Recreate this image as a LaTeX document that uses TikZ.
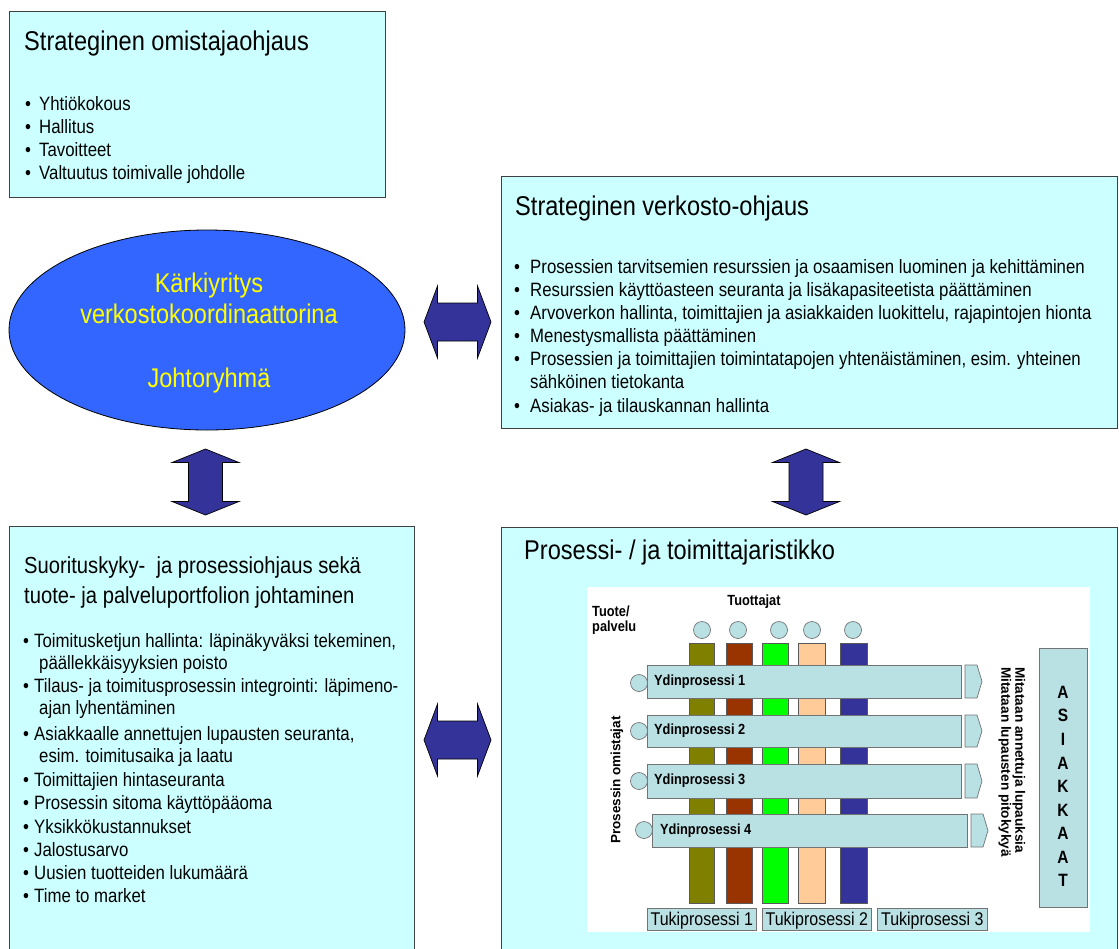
\documentclass[tikz,border=0pt]{standalone}
\usepackage{fontspec}
\setmainfont{Liberation Sans}
\usetikzlibrary{shapes.geometric}

\definecolor{panelbg}{HTML}{CCFFFF}
\definecolor{leadblue}{HTML}{3366FF}
\definecolor{arrowblue}{HTML}{333399}
\definecolor{leadtext}{HTML}{FFFF00}
\definecolor{teal}{HTML}{B9E0E3}
\definecolor{barA}{HTML}{808000}
\definecolor{barB}{HTML}{993300}
\definecolor{barC}{HTML}{00FF00}
\definecolor{barD}{HTML}{FFCC99}
\definecolor{barE}{HTML}{333399}

\newcommand\fs[1]{\fontsize{#1}{#1}\selectfont}
\newcommand\bitem[2]{\makebox[#1pt][l]{\textbullet}#2}

\begin{document}
\begin{tikzpicture}[x=1pt,y=-1pt,
  panel/.style={draw=black!75, line width=0.9pt, fill=panelbg, anchor=north west, inner sep=0},
  ttl/.style={anchor=base west, inner sep=0, yscale=1.15, font=\fs{23.6}},
  ttlsmall/.style={anchor=base west, inner sep=0, yscale=1.15, font=\fs{20.2}},
  itm/.style={anchor=base west, inner sep=0, yscale=1.15, font=\fs{16.8}},
  leadtxt/.style={anchor=base, inner sep=0, yscale=1.15, text=leadtext, font=\fs{23.5}},
  blockarrow/.style={fill=arrowblue, draw=black, line width=0.7pt, line join=miter},
  harrow/.pic={\draw[blockarrow] (-33.5,0) -- (-20,-36) -- (-20,-19) -- (20,-19) -- (20,-36)
      -- (33.5,0) -- (20,36) -- (20,19) -- (-20,19) -- (-20,36) -- cycle;},
  varrow/.pic={\draw[blockarrow] (0,-33) -- (33.5,-19.5) -- (17,-19.5) -- (17,19.5) -- (33.5,19.5)
      -- (0,33) -- (-33.5,19.5) -- (-17,19.5) -- (-17,-19.5) -- (-33.5,-19.5) -- cycle;},
  bar/.style={draw=black!65, line width=0.6pt, anchor=north west, inner sep=0, minimum width=25, minimum height=260},
  procbox/.style={draw=black!55, line width=0.7pt, fill=teal, anchor=north west, inner sep=0},
  dot/.style={circle, draw=black!55, line width=0.7pt, fill=teal, minimum size=17, inner sep=0},
  bold/.style={inner sep=0, yscale=1.15, font=\bfseries\fs{12.8}},
  tuki/.style={procbox, minimum height=22, font=\fs{16}}
]
\useasboundingbox (0,0) rectangle (1119,948);
\clip (0,0) rectangle (1119,948);

% --- panels -----------------------------------------------------------
\node[panel, minimum width=376, minimum height=186] (own) at (9,11) {};
\node[panel, minimum width=616, minimum height=252] (net) at (501,176) {};
\node[panel, minimum width=405, minimum height=430] (perf) at (9,526) {};
\node[panel, minimum width=616, minimum height=430] (grid) at (501,527) {};

% --- strategic ownership ------------------------------------------------
\node[ttl] (ownT) at (24,50) {Strateginen omistajaohjaus};
\node[itm] (own1) at (25,110) {\bitem{14}{Yhtiökokous}};
\node[itm] (own2) at (25,133) {\bitem{14}{Hallitus}};
\node[itm] (own3) at (25,156) {\bitem{14}{Tavoitteet}};
\node[itm] (own4) at (25,179) {\bitem{14}{Valtuutus toimivalle johdolle}};

% --- lead company ellipse -----------------------------------------------
\node[ellipse, draw=black, line width=0.8pt, fill=leadblue, minimum width=396, minimum height=200, inner sep=0] (lead) at (207,330) {};
\node[leadtxt] (lead1) at (209,292) {Kärkiyritys};
\node[leadtxt] (lead2) at (209,323) {verkostokoordinaattorina};
\node[leadtxt] (lead3) at (209,387) {Johtoryhmä};

% --- strategic network steering ---------------------------------------
\node[ttl] (netT) at (515,215) {Strateginen verkosto-ohjaus};
\node[itm] (net1) at (514,273) {\bitem{16}{Prosessien tarvitsemien resurssien ja osaamisen luominen ja kehittäminen}};
\node[itm] (net2) at (514,296) {\bitem{16}{Resurssien käyttöasteen seuranta ja lisäkapasiteetista päättäminen}};
\node[itm] (net3) at (514,319) {\bitem{16}{Arvoverkon hallinta, toimittajien ja asiakkaiden luokittelu, rajapintojen hionta}};
\node[itm] (net4) at (514,342) {\bitem{16}{Menestysmallista päättäminen}};
\node[itm] (net5) at (514,365) {\bitem{16}{Prosessien ja toimittajien toimintatapojen yhtenäistäminen, esim. yhteinen}};
\node[itm] (net5b) at (530,388) {sähköinen tietokanta};
\node[itm] (net6) at (514,412) {\bitem{16}{Asiakas- ja tilauskannan hallinta}};

% --- performance steering ---------------------------------------------
\node[ttlsmall] (perfT1) at (24,573) {Suorituskyky-\ \ ja prosessiohjaus sekä};
\node[ttlsmall] (perfT2) at (24,603) {tuote- ja palveluportfolion johtaminen};
\node[itm] (perf1) at (23,647) {\bitem{11}{Toimitusketjun hallinta: läpinäkyväksi tekeminen,}};
\node[itm] (perf1b) at (39,669) {päällekkäisyyksien poisto};
\node[itm] (perf2) at (23,692) {\bitem{11}{Tilaus- ja toimitusprosessin integrointi: läpimeno-}};
\node[itm] (perf2b) at (39,714) {ajan lyhentäminen};
\node[itm] (perf3) at (23,740) {\bitem{11}{Asiakkaalle annettujen lupausten seuranta,}};
\node[itm] (perf3b) at (39,762) {esim. toimitusaika ja laatu};
\node[itm] (perf4) at (23,786) {\bitem{11}{Toimittajien hintaseuranta}};
\node[itm] (perf5) at (23,809) {\bitem{11}{Prosessin sitoma käyttöpääoma}};
\node[itm] (perf6) at (23,833) {\bitem{11}{Yksikkökustannukset}};
\node[itm] (perf7) at (23,856) {\bitem{11}{Jalostusarvo}};
\node[itm] (perf8) at (23,879) {\bitem{11}{Uusien tuotteiden lukumäärä}};
\node[itm] (perf9) at (23,902) {\bitem{11}{Time to market}};

% --- block arrows between the panels ------------------------------------
\pic (arrTop) at (457.5,322) {harrow};
\pic (arrBottom) at (457.5,740) {harrow};
\pic (arrLeft) at (205.5,482) {varrow};
\pic (arrRight) at (806,482) {varrow};

% --- process / supplier matrix -------------------------------------------
\node[ttl] (gridT) at (524,559) {Prosessi- / ja toimittajaristikko};
\node[fill=white, anchor=north west, inner sep=0, minimum width=503, minimum height=345] (canvas) at (587,587) {};

\node[bold, anchor=base] (prod) at (754,605) {Tuottajat};
\node[bold, anchor=base west] (tp1) at (592,616) {Tuote/};
\node[bold, anchor=base west] (tp2) at (592,631) {palvelu};

\node[dot] (s1) at (702,630) {};
\node[dot] (s2) at (738,630) {};
\node[dot] (s3) at (779,630) {};
\node[dot] (s4) at (812,630) {};
\node[dot] (s5) at (853,630) {};

\node[bar, fill=barA] (c1) at (689,643) {};
\node[bar, fill=barB, minimum width=26] (c2) at (726,643) {};
\node[bar, fill=barC, minimum width=26] (c3) at (762,643) {};
\node[bar, fill=barD, minimum width=27] (c4) at (798,643) {};
\node[bar, fill=barE, minimum width=27] (c5) at (840,643) {};

% core processes
\node[procbox, minimum width=314, minimum height=33] (p1) at (647,665) {};
\node[procbox, minimum width=314, minimum height=32] (p2) at (647,715) {};
\node[procbox, minimum width=314, minimum height=34] (p3) at (647,764) {};
\node[procbox, minimum width=315, minimum height=33] (p4) at (652,814) {};

\node[bold, anchor=west] (p1t) at (654,681.5) {Ydinprosessi 1};
\node[bold, anchor=west] (p2t) at (654,731) {Ydinprosessi 2};
\node[bold, anchor=west] (p3t) at (654,781) {Ydinprosessi 3};
\node[bold, anchor=west] (p4t) at (660,830.5) {Ydinprosessi 4};

\node[dot] (o1) at (639,683) {};
\node[dot] (o2) at (639,731) {};
\node[dot] (o3) at (639,781) {};
\node[dot] (o4) at (644,830) {};

\draw[procbox] (965,665) -- (977,665) -- (982,681.5) -- (977,698) -- (965,698) -- cycle;
\draw[procbox] (965,715) -- (977,715) -- (982,731) -- (977,747) -- (965,747) -- cycle;
\draw[procbox] (965,764) -- (977,764) -- (982,781) -- (977,798) -- (965,798) -- cycle;
\draw[procbox] (971,814) -- (983,814) -- (988,830.5) -- (983,847) -- (971,847) -- cycle;

\node[inner sep=0, rotate=90, font=\bfseries\fs{13.5}] (owners) at (617,780) {Prosessin omistajat};
\node[inner sep=0, rotate=-90, anchor=north west, align=left, font=\bfseries\fontsize{13.6}{14}\selectfont] (measure) at (1025.5,667)
  {Mitataan annettuja lupauksia\\Mitataan lupausten pitokykyä};

\node[procbox, minimum width=48, minimum height=259] (cust) at (1039,648) {};
\node[inner sep=0, yscale=1.15, align=center, font=\bfseries\fontsize{15.5}{20.5}\selectfont] (custT) at (1063,786.5)
  {A\\S\\I\\A\\K\\K\\A\\A\\T};

% support processes
\node[tuki, minimum width=109] (t1) at (647,908) {};
\node[tuki, minimum width=109] (t2) at (762,908) {};
\node[tuki, minimum width=110] (t3) at (877,908) {};
\node[inner sep=0, anchor=base, yscale=1.15, font=\fs{16}] at ([yshift=-6]t1.center) {Tukiprosessi 1};
\node[inner sep=0, anchor=base, yscale=1.15, font=\fs{16}] at ([yshift=-6]t2.center) {Tukiprosessi 2};
\node[inner sep=0, anchor=base, yscale=1.15, font=\fs{16}] at ([yshift=-6]t3.center) {Tukiprosessi 3};
\end{tikzpicture}
\end{document}
